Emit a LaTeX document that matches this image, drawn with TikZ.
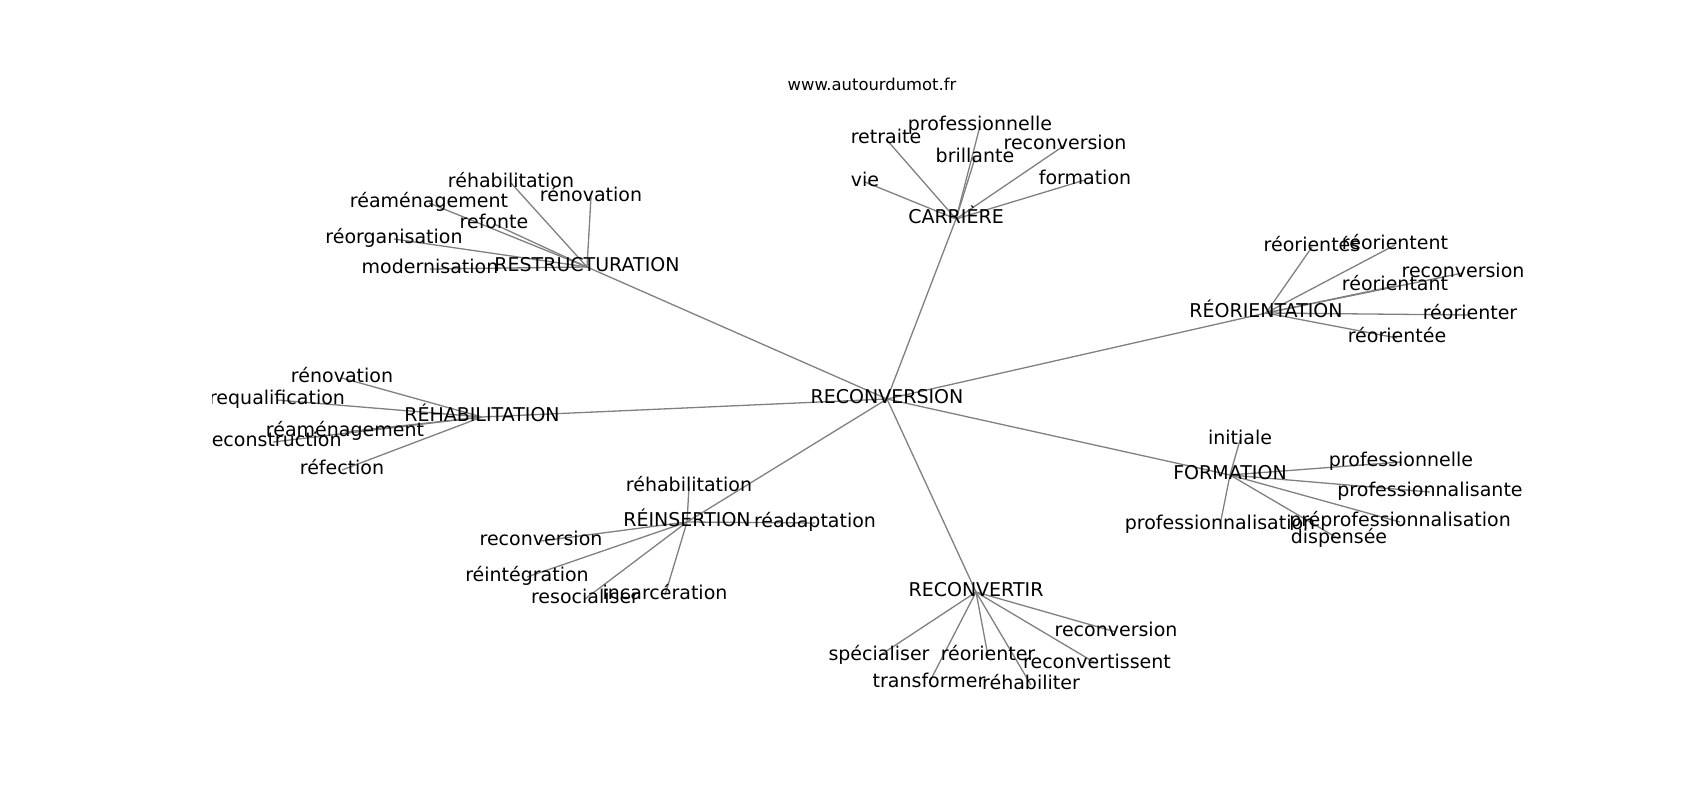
\documentclass[tikz,border=0pt]{standalone}
\usepackage{fontspec}
\setmainfont{DejaVu Sans}
\usetikzlibrary{backgrounds}
\pgfdeclarelayer{paper}
\pgfsetlayers{paper,background,main}
\tikzset{
  lbl/.style={inner sep=0pt, text height=0.93em, text depth=0.07em, anchor=center, font=\fontsize{19}{19}\selectfont, text=black},
  ttl/.style={inner sep=0pt, anchor=center, font=\fontsize{16.4}{16.4}\selectfont, text=black},
  edge/.style={draw=black!50, line width=1.3pt}
}
\begin{document}
\begin{tikzpicture}[x=1pt,y=-1pt]
\begin{pgfonlayer}{paper}
\fill[white] (0,0) rectangle (1700,800);
\end{pgfonlayer}
\useasboundingbox (0,0) rectangle (1700,800);
\node[ttl] (title) at (872,84) {www.autourdumot.fr};
\begin{scope}
\clip (212.5,96) rectangle (1530,712);
% centre
\node[lbl] (c) at (887,399) {RECONVERSION};
% CARRIERE
\node[lbl] (car) at (956,219) {CARRIÈRE};
\node[lbl] (car1) at (886,139) {retraite};
\node[lbl] (car2) at (980,126) {professionnelle};
\node[lbl] (car3) at (975,158) {brillante};
\node[lbl] (car4) at (1065,145) {reconversion};
\node[lbl] (car5) at (865,182) {vie};
\node[lbl] (car6) at (1085,180) {formation};
% RESTRUCTURATION
\node[lbl] (res) at (587,267) {RESTRUCTURATION};
\node[lbl] (res1) at (511,183) {réhabilitation};
\node[lbl] (res2) at (591,197) {rénovation};
\node[lbl] (res3) at (429,203) {réaménagement};
\node[lbl] (res4) at (494,224) {refonte};
\node[lbl] (res5) at (394,239) {réorganisation};
\node[lbl] (res6) at (430,269) {modernisation};
% REORIENTATION
\node[lbl] (reo) at (1266,313) {RÉORIENTATION};
\node[lbl] (reo1) at (1312,247) {réorientés};
\node[lbl] (reo2) at (1395,245) {réorientent};
\node[lbl] (reo3) at (1463,273) {reconversion};
\node[lbl] (reo4) at (1395,286) {réorientant};
\node[lbl] (reo5) at (1470,315) {réorienter};
\node[lbl] (reo6) at (1397,338) {réorientée};
% REHABILITATION
\node[lbl] (reh) at (482,417) {RÉHABILITATION};
\node[lbl] (reh1) at (342,378) {rénovation};
\node[lbl] (reh2) at (277,400) {requalification};
\node[lbl] (reh3) at (345,432) {réaménagement};
\node[lbl] (reh4) at (273,442) {reconstruction};
\node[lbl] (reh5) at (342,470) {réfection};
% FORMATION
\node[lbl] (for) at (1230,475) {FORMATION};
\node[lbl] (for1) at (1240,440) {initiale};
\node[lbl] (for2) at (1401,462) {professionnelle};
\node[lbl] (for3) at (1430,492) {professionnalisante};
\node[lbl] (for4) at (1220,525) {professionnalisation};
\node[lbl] (for5) at (1400,522) {préprofessionnalisation};
\node[lbl] (for6) at (1339,539) {dispensée};
% REINSERTION
\node[lbl] (rei) at (687,522) {RÉINSERTION};
\node[lbl] (rei1) at (689,487) {réhabilitation};
\node[lbl] (rei2) at (815,523) {réadaptation};
\node[lbl] (rei3) at (541,541) {reconversion};
\node[lbl] (rei4) at (527,577) {réintégration};
\node[lbl] (rei5) at (585,599) {resocialiser};
\node[lbl] (rei6) at (665,595) {incarcération};
% RECONVERTIR
\node[lbl] (rcv) at (976,592) {RECONVERTIR};
\node[lbl] (rcv1) at (1116,632) {reconversion};
\node[lbl] (rcv2) at (879,656) {spécialiser};
\node[lbl] (rcv3) at (988,656) {réorienter};
\node[lbl] (rcv4) at (1097,664) {reconvertissent};
\node[lbl] (rcv5) at (929,683) {transformer};
\node[lbl] (rcv6) at (1031,685) {réhabiliter};
\begin{pgfonlayer}{background}
\foreach \h in {car,res,reo,reh,for,rei,rcv}
  \draw[edge] (c.center) -- (\h.center);
\foreach \h/\n in {car/6,res/6,reo/6,reh/5,for/6,rei/6,rcv/6}
  \foreach \i in {1,...,\n}
    \draw[edge] (\h.center) -- (\h\i.center);
\end{pgfonlayer}
\end{scope}
\end{tikzpicture}
\end{document}
